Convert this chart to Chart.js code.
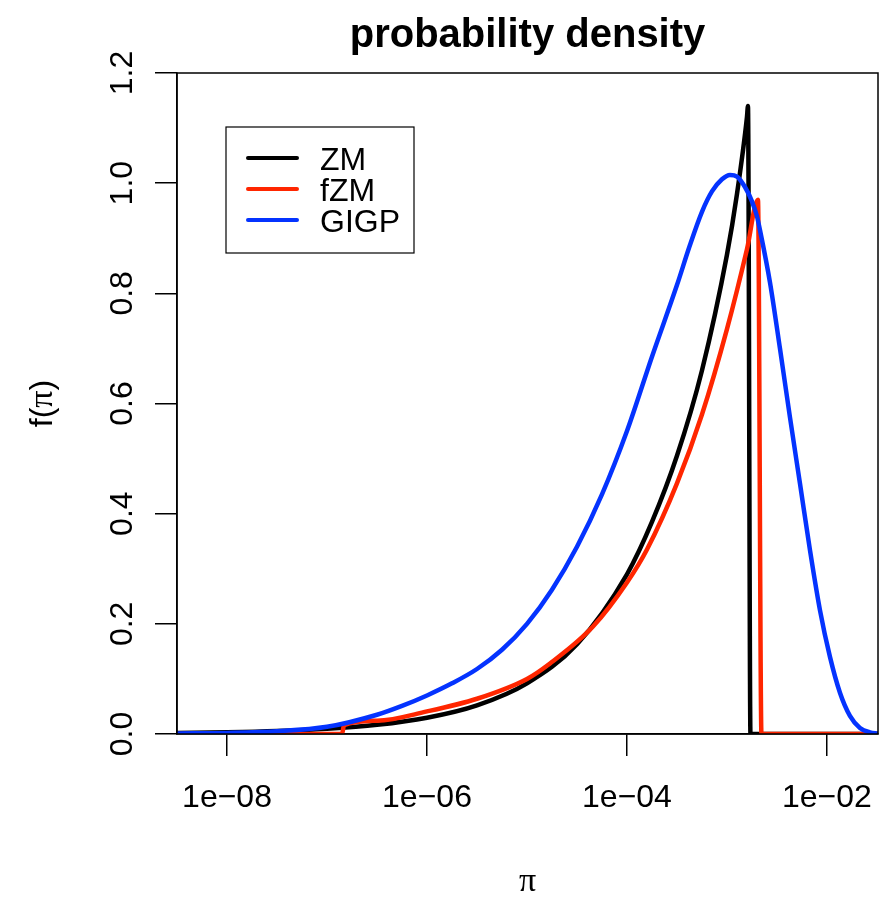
<!DOCTYPE html>
<html lang="en">
<head>
  <meta charset="UTF-8">
  <title>probability density</title>
  <script src="https://cdn.jsdelivr.net/npm/chart.js"></script>
  <style>
    body { margin: 0; background: #fff; }
  </style>
</head>
<body>
  <canvas id="chartPD" width="892" height="899"></canvas>

  <script>
    // values (x = π, y = f(π))
    const mainTitle = 'probability density'
    const seriesNames = ['ZM', 'fZM', 'GIGP']
    const seriesColors = ['#000000', '#ff2600', '#0433ff']

    const zmX = [3.162e-9, 1e-8, 3.162e-8, 1e-7, 3.162e-7, 1e-6, 3.162e-6, 1e-5, 3.162e-5, 1e-4, 1.778e-4,
      3.162e-4, 5.623e-4, 1e-3, 1.259e-3, 1.585e-3, 1.622e-3, 1.718e-3, 3.236e-2]
    const zmY = [0.0017, 0.003, 0.0053, 0.0094, 0.0166, 0.0295, 0.052, 0.092, 0.163, 0.29, 0.385,
      0.505, 0.66, 0.87, 0.98, 1.12, 1.14, 0, 0]

    const fzmX = [3.162e-9, 1.413e-7, 1.479e-7, 3.162e-7, 1e-6, 3.162e-6, 1e-5, 1.698e-5, 4.571e-5, 1e-4,
      1.585e-4, 3.162e-4, 5.623e-4, 1e-3, 1.585e-3, 2.042e-3, 2.213e-3, 3.236e-2]
    const fzmY = [0, 0, 0.016, 0.024, 0.041, 0.064, 0.10, 0.128, 0.195, 0.275,
      0.335, 0.455, 0.58, 0.735, 0.88, 0.97, 0, 0]

    const gigpX = [3.162e-9, 1e-8, 3.162e-8, 1e-7, 3.162e-7, 5.623e-7, 1e-6, 1.778e-6, 3.162e-6, 5.623e-6,
      1e-5, 1.778e-5, 3.162e-5, 5.623e-5, 1e-4, 1.778e-4, 3.162e-4, 4.217e-4, 5.623e-4, 7.079e-4,
      8.913e-4, 1.072e-3, 1.259e-3, 1.514e-3, 1.778e-3, 1.995e-3, 2.138e-3, 2.692e-3, 3.388e-3, 4.266e-3,
      5.370e-3, 6.761e-3, 8.511e-3, 1.072e-2, 1.349e-2, 1.698e-2, 2.138e-2, 2.692e-2, 3.236e-2]
    const gigpY = [0.001, 0.002, 0.005, 0.013, 0.035, 0.051, 0.07, 0.092, 0.118, 0.153,
      0.20, 0.262, 0.34, 0.435, 0.55, 0.685, 0.815, 0.885, 0.948, 0.985,
      1.007, 1.015, 1.012, 0.993, 0.967, 0.94, 0.915, 0.82, 0.70, 0.575,
      0.455, 0.334, 0.225, 0.14, 0.075, 0.033, 0.011, 0.003, 0.001]

    const xTickVals = [1e-8, 1e-6, 1e-4, 1e-2]
    const yTickVals = [0, 0.2, 0.4, 0.6, 0.8, 1.0, 1.2]
    const xRange = [3.16e-9, 3.24e-2]
    const yRange = [0, 1.2]

    const sans = '"Liberation Sans", Arial, Helvetica, sans-serif'
    const serif = '"Liberation Serif", "DejaVu Serif", serif'

    function pts(xs, ys) {
      return xs.map((x, i) => ({ x: x, y: ys[i] }))
    }

    function expLabel(v) { // 1e-08 style, with a minus sign like R
      let e = Math.round(Math.log10(v))
      return '1e' + (e < 0 ? '\u2212' : '+') + String(Math.abs(e)).padStart(2, '0')
    }

    // R-style decorations: box, tick labels, titles, legend
    const rDecor = {
      id: 'rDecor',
      afterDraw(chart) {
        const { ctx, chartArea: a, scales: { x, y } } = chart
        ctx.save()
        ctx.strokeStyle = '#000'
        ctx.lineWidth = 1.5
        ctx.strokeRect(a.left, a.top, a.right - a.left, a.bottom - a.top)

        ctx.fillStyle = '#000'
        ctx.font = '32px ' + sans
        ctx.textAlign = 'center'
        ctx.textBaseline = 'alphabetic'

        // x tick labels
        x.ticks.forEach(t => {
          ctx.fillText(expLabel(t.value), x.getPixelForValue(t.value), a.bottom + 73)
        })
        // y tick labels, rotated
        y.ticks.forEach(t => {
          ctx.save()
          ctx.translate(a.left - 57, y.getPixelForValue(t.value))
          ctx.rotate(-Math.PI / 2)
          ctx.fillText(t.value.toFixed(1), 0, 11.5)
          ctx.restore()
        })

        // main title
        ctx.font = 'bold 40px ' + sans
        ctx.fillText(mainTitle, (a.left + a.right) / 2, 47)

        // x axis title
        ctx.font = '34px ' + serif
        ctx.fillText('\u03c0', (a.left + a.right) / 2, 891)

        // y axis title f(π)
        ctx.save()
        ctx.translate(52, (a.top + a.bottom) / 2)
        ctx.rotate(-Math.PI / 2)
        ctx.textAlign = 'left'
        ctx.font = '32px ' + sans
        let w1 = ctx.measureText('f(').width, w3 = ctx.measureText(')').width
        ctx.font = '34px ' + serif
        let w2 = ctx.measureText('\u03c0').width
        let x0 = -(w1 + w2 + w3) / 2
        ctx.font = '32px ' + sans
        ctx.fillText('f(', x0, 0)
        ctx.font = '34px ' + serif
        ctx.fillText('\u03c0', x0 + w1, 0)
        ctx.font = '32px ' + sans
        ctx.fillText(')', x0 + w1 + w2, 0)
        ctx.restore()

        // legend
        let lx = a.left + 49, ly = a.top + 54
        ctx.lineWidth = 1.2
        ctx.strokeRect(lx, ly, 188, 126)
        ctx.textAlign = 'left'
        ctx.font = '32px ' + sans
        chart.data.datasets.forEach((ds, i) => {
          let ry = ly + 31 + i * 31
          ctx.strokeStyle = ds.borderColor
          ctx.lineWidth = 4
          ctx.lineCap = 'round'
          ctx.beginPath()
          ctx.moveTo(lx + 22, ry)
          ctx.lineTo(lx + 71, ry)
          ctx.stroke()
          ctx.fillText(ds.label, lx + 94, ry + 12)
        })
        ctx.restore()
      }
    }

    const seriesData = [pts(zmX, zmY), pts(fzmX, fzmY), pts(gigpX, gigpY)]

    new Chart(document.getElementById('chartPD').getContext('2d'), {
      type: 'line',
      data: {
        datasets: seriesData.map((d, i) => ({
          label: seriesNames[i],
          data: d,
          borderColor: seriesColors[i],
          backgroundColor: seriesColors[i],
          borderWidth: 4.5,
          pointRadius: 0,
          fill: false,
          cubicInterpolationMode: 'monotone',
          order: 3 - i // GIGP on top, like R draws it last
        }))
      },
      options: {
        responsive: false,
        animation: false,
        layout: { padding: { left: 0, top: 73, right: 14, bottom: 0 } },
        plugins: {
          legend: { display: false },
          title: { display: false },
          tooltip: { enabled: false }
        },
        scales: {
          x: {
            type: 'logarithmic',
            min: xRange[0],
            max: xRange[1],
            afterBuildTicks: s => { s.ticks = xTickVals.map(v => ({ value: v })) },
            afterFit: s => { s.height = 165 },
            ticks: { display: false },
            grid: { drawOnChartArea: false, drawTicks: true, tickLength: 22, color: '#000', lineWidth: 1.5 },
            border: { display: true, color: '#000', width: 1.5 }
          },
          y: {
            type: 'linear',
            min: yRange[0],
            max: yRange[1],
            afterBuildTicks: s => { s.ticks = yTickVals.map(v => ({ value: v })) },
            afterFit: s => { s.width = 177 },
            ticks: { display: false },
            grid: { drawOnChartArea: false, drawTicks: true, tickLength: 22, color: '#000', lineWidth: 1.5 },
            border: { display: true, color: '#000', width: 1.5 }
          }
        }
      },
      plugins: [rDecor]
    })
  </script>
</body>
</html>
